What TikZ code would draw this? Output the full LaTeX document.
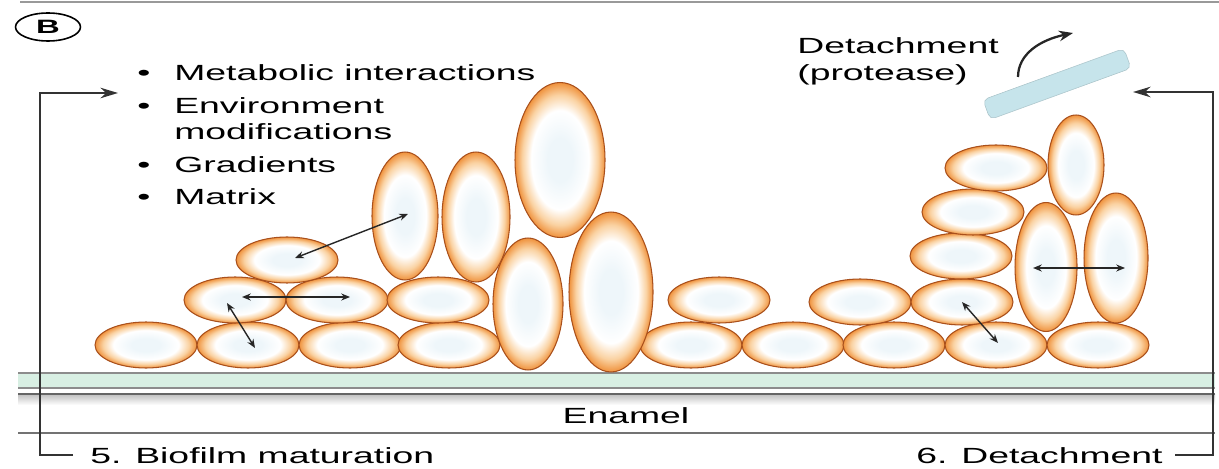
\documentclass[tikz,border=0pt]{standalone}
\usepackage{fontspec}
\setmainfont{Liberation Sans}
\usetikzlibrary{arrows.meta,shapes.geometric}

\definecolor{cellrim}{HTML}{A9501C}
\definecolor{cellorange}{HTML}{EE8A30}
\definecolor{cellpale}{HTML}{FAD2A2}
\definecolor{cellcore}{HTML}{EEF6FA}
\definecolor{fragblue}{HTML}{C6E4EB}
\definecolor{gumgreen}{HTML}{D8EFE3}
\pgfdeclareradialshading{cellfill}{\pgfpoint{0bp}{0bp}}{color(0bp)=(cellcore); color(7bp)=(cellcore); color(16bp)=(white); color(21bp)=(cellpale); color(25.5bp)=(cellorange); color(28bp)=(cellorange!90!black); color(50bp)=(cellorange!90!black)}
\newcommand{\wide}[1]{\scalebox{1.7}[1]{#1}}

\begin{document}
\begin{tikzpicture}[x=0.02cm, y=-0.02cm,
      font=\fontsize{12.5}{15}\selectfont,
      cell/.style={ellipse, draw=cellrim, line width=0.6pt, shade, shading=cellfill, inner sep=0pt, minimum width=2.04cm, minimum height=0.92cm},
      tall/.style={cell, minimum width=1.32cm, minimum height=2.6cm},
      lbl/.style={inner sep=0pt},
      brk/.style={draw=black!80, line width=1.1pt, -{Stealth[length=10pt,width=6pt]}},
      push/.style={draw=black!85, line width=0.8pt, {Stealth[length=5pt,width=4pt]}-{Stealth[length=5pt,width=4pt]}},
      lift/.style={draw=black!85, line width=1.3pt, -{Stealth[length=8pt,width=6pt]}},
      layer/.style={draw=black!45, line width=0.6pt}]
    \useasboundingbox (0,0) rectangle (1219,469);
    \draw[black!40, line width=1.6pt] (20,2) -- (1219,2);
    \node[ellipse, draw, line width=0.9pt, inner sep=0pt, minimum width=1.3cm, minimum height=0.56cm] (tag) at (48,27) {\fontsize{11}{12}\selectfont\wide{\textbf{B}}};

    % pellicle and tooth surface
    \fill[gumgreen] (18,373) rectangle (1215,388);
    \draw[layer] (18,373) -- (1215,373) (18,388) -- (1215,388);
    \shade[top color=black!25, bottom color=white] (18,394) rectangle (1215,405);
    \draw[black!60, line width=1.1pt] (18,394) -- (1215,394);
    \draw[black!55, line width=0.9pt] (18,433) -- (1215,433);
    \node[lbl, anchor=base] (enamel) at (626,423) {\wide{Enamel}};

    % bacterial cells
    \foreach \x [count=\i] in {146,248,350,449,691,793,894,996,1098}
      \node[cell] (b\i) at (\x,345) {};
    \foreach \x/\y [count=\i] in {235/300,337/300,438/300,719/300,860/302,962/302}
      \node[cell] (s\i) at (\x,\y) {};
    \node[tall, minimum width=1.4cm, minimum height=2.64cm] (t1) at (528,304) {};
    \node[tall, minimum width=1.68cm, minimum height=3.2cm] (t2) at (611,292) {};
    \node[cell] (r1) at (287,260) {};
    \node[tall, minimum width=1.32cm, minimum height=2.56cm] (v1) at (405,216) {};
    \node[tall, minimum width=1.36cm, minimum height=2.6cm] (v2) at (476,217) {};
    \node[tall, minimum width=1.8cm, minimum height=3.1cm] (w1) at (560,160) {};
    \node[tall, minimum width=1.24cm, minimum height=2.58cm] (u1) at (1046,267) {};
    \node[tall, minimum width=1.28cm, minimum height=2.6cm] (u2) at (1116,258) {};
    \node[cell] (k1) at (961,256) {};
    \node[cell] (k2) at (973,212) {};
    \node[cell] (k3) at (996,168) {};
    \node[tall, minimum width=1.12cm, minimum height=2cm] (k4) at (1076,165) {};

    \draw[push] ([shift={(8,-2)}]r1.center) -- ([shift={(3,-2)}]v1.center);
    \draw[push] ([shift={(7,-3)}]s1.center) -- ([shift={(13,-3)}]s2.center);
    \draw[push] ([shift={(-8,3)}]s1.center) -- ([shift={(7,3)}]b2.center);
    \draw[push] ([shift={(-13,1)}]u1.center) -- ([shift={(9,10)}]u2.center);
    \draw[push] (s6.center) -- ([shift={(2,-2)}]b8.center);

    % released fragment
    \node[rectangle, rounded corners=3pt, fill=fragblue, draw=fragblue!85!black, line width=0.3pt, minimum width=3cm, minimum height=0.42cm, rotate=20] (frag) at (1057,84) {};
    \coordinate (lift0) at (1018,77);
    \coordinate (lift1) at (1073,33);
    \draw[lift] (lift0) .. controls (1018,54) and (1040,40) .. (lift1);
    \node[lbl, anchor=base west, align=left] (prot) at (797,81) {\wide{Detachment}\\[0.9pt]\wide{(protease)}};

    \node[lbl, anchor=base west] (facts) at (137,81) {\wide{\begin{tabular}[t]{@{}l@{\hspace{8pt}}l@{}}
      \textbullet & Metabolic interactions\\[3.4pt]
      \textbullet & Environment\\
                  & modifications\\[3.4pt]
      \textbullet & Gradients\\[3.4pt]
      \textbullet & Matrix
    \end{tabular}}};

    % stage brackets
    \node[lbl, anchor=base west] (mat) at (90,463) {\wide{5. Biofilm maturation}};
    \node[lbl, anchor=base east] (det) at (1163,463) {\wide{6. Detachment}};
    \coordinate (lt) at (118,93);
    \coordinate (rt) at (1133,92);
    \draw[brk] (mat.west) ++(-17,0) -- ++(-33,0) |- (lt);
    \draw[brk] (det.east) ++(12,0) -- ++(38,0) |- (rt);
  \end{tikzpicture}
\end{document}
